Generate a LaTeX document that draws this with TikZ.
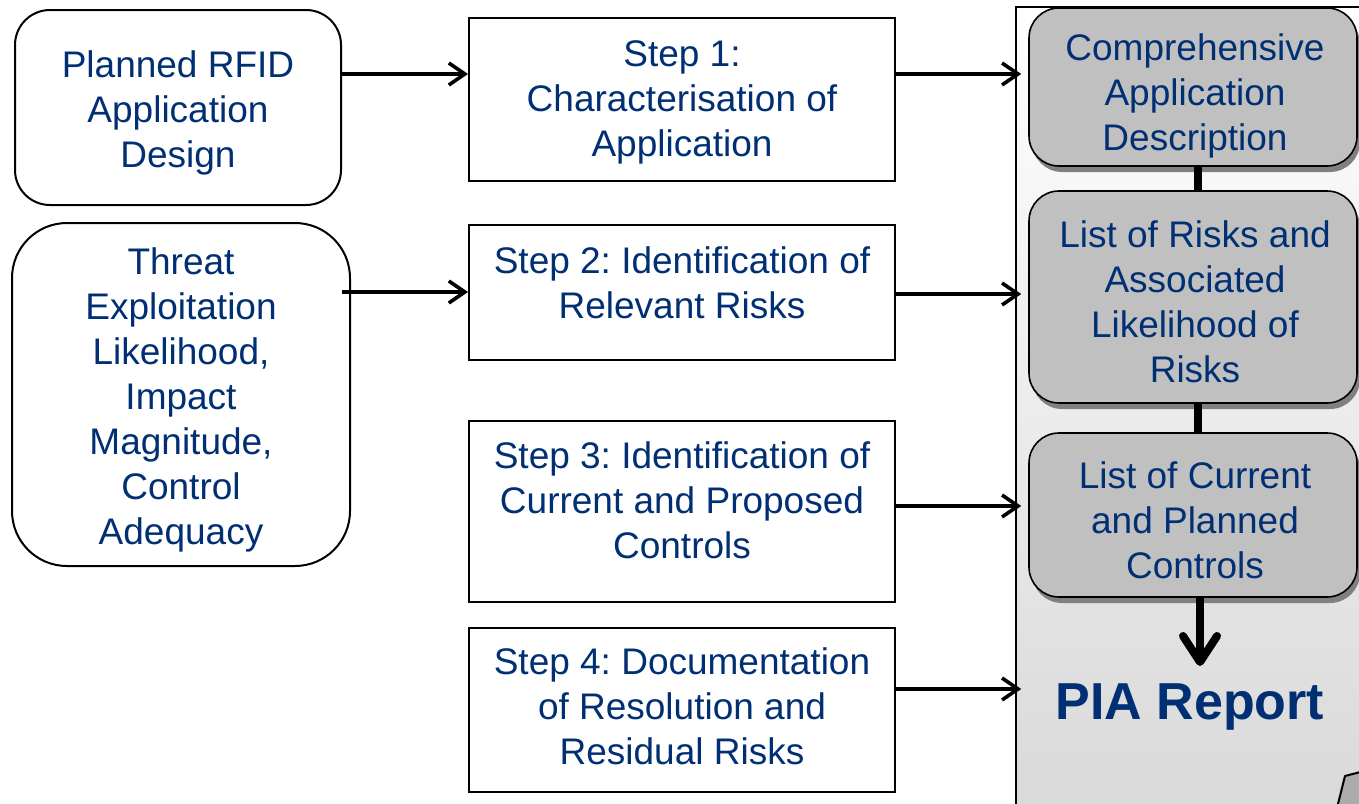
\documentclass[tikz,border=0pt]{standalone}
\usepackage{fontspec}
\setmainfont{Liberation Sans}
\usetikzlibrary{arrows.meta,shadows,calc}
\definecolor{tblue}{RGB}{0,48,115}
\definecolor{gboxc}{RGB}{192,192,192}
\definecolor{gshadow}{RGB}{128,128,128}
\frenchspacing
\begin{document}
\begin{tikzpicture}[x=1pt,y=-1pt,
  wbox/.style={draw=black, line width=2pt, fill=white, inner sep=0pt},
  gbox/.style={draw=black, line width=1.6pt, fill=gboxc, inner sep=0pt, rounded corners=30pt,
    minimum width=328pt,
    drop shadow={shadow xshift=3pt, shadow yshift=-6pt, fill=gshadow, opacity=1}},
  txt/.style={text=tblue, font=\fontsize{37pt}{45pt}\selectfont, align=center, inner sep=0pt},
  arr/.style={line width=3.6pt, -{Straight Barb[length=16pt,width=22pt]}},
  conn/.style={line width=8pt},
  darr/.style={line width=8pt, -{Straight Barb[length=26pt,width=34pt,round]}}]
\useasboundingbox (0,0) rectangle (1359,803);
% report page
\path[top color=white, bottom color=black!15] (1016,7) rectangle (1375,815);
\draw[line width=2pt] (1016,815) -- (1016,7) -- (1375,7);
\filldraw[fill=black!33, line width=2pt, line join=round] (1336,812) -- (1345,776) -- (1368,770) -- (1368,812) -- cycle;
% left boxes
\node[wbox, rounded corners=35pt, minimum width=326pt, minimum height=195pt] (A) at (178,107.5) {};
\node[wbox, rounded corners=55pt, minimum width=338pt, minimum height=343pt] (B) at (181,394.5) {};
\node[txt] (At) at (178,113) {Planned RFID\\Application\\Design};
\node[txt] (Bt) at (181,400) {Threat\\Exploitation\\Likelihood,\\Impact\\Magnitude,\\Control\\Adequacy};
% step boxes
\node[wbox, minimum width=426pt, minimum height=163pt] (S1) at (682,99.5) {};
\node[wbox, minimum width=426pt, minimum height=135pt] (S2) at (682,292.5) {};
\node[wbox, minimum width=426pt, minimum height=181pt] (S3) at (682,511.5) {};
\node[wbox, minimum width=426pt, minimum height=164pt] (S4) at (682,710) {};
\node[txt] (S1t) at (682,102) {Step 1:\\Characterisation of\\Application};
\node[txt] (S2t) at (682,283) {Step 2: Identification of\\Relevant Risks};
\node[txt] (S3t) at (682,500) {Step 3: Identification of\\Current and Proposed\\Controls};
\node[txt] (S4t) at (682,706) {Step 4: Documentation\\of Resolution and\\Residual Risks};
% report contents
\node[gbox, minimum height=158pt] (G1) at (1193,87) {};
\node[gbox, minimum height=212pt] (G2) at (1193,297) {};
\node[gbox, minimum height=164pt] (G3) at (1193,515) {};
\draw[conn] ([xshift=5pt]G1.south) -- ([xshift=5pt]G2.north);
\draw[conn] ([xshift=5pt]G2.south) -- ([xshift=5pt]G3.north);
\draw[darr] ([xshift=7pt]G3.south) -- ($(G3.south |- 0,666)+(7,0)$);
\node[txt] (G1t) at (1195,96) {Comprehensive\\Application\\Description};
\node[txt] (G2t) at (1195,302) {List of Risks and\\Associated\\Likelihood of\\Risks};
\node[txt] (G3t) at (1195,520) {List of Current\\and Planned\\Controls};
\node[text=tblue, font=\fontsize{52pt}{60pt}\selectfont\bfseries, inner sep=0pt, anchor=base] (PIA) at (1190,719) {PIA Report};
% arrows
\draw[arr] (A.east |- 0,74) -- (S1.west |- 0,74);
\draw[arr] ($(B.east |- 0,292)+(-9,0)$) -- (S2.west |- 0,292);
\draw[arr, shorten >=7pt] (S1.east |- 0,74) -- (G1.west |- 0,74);
\draw[arr, shorten >=7pt] (S2.east |- 0,294) -- (G2.west |- 0,294);
\draw[arr, shorten >=7pt] (S3.east |- 0,506) -- (G3.west |- 0,506);
\draw[arr, shorten >=7pt] (S4.east |- 0,689) -- (G3.west |- 0,689);
\end{tikzpicture}
\end{document}
